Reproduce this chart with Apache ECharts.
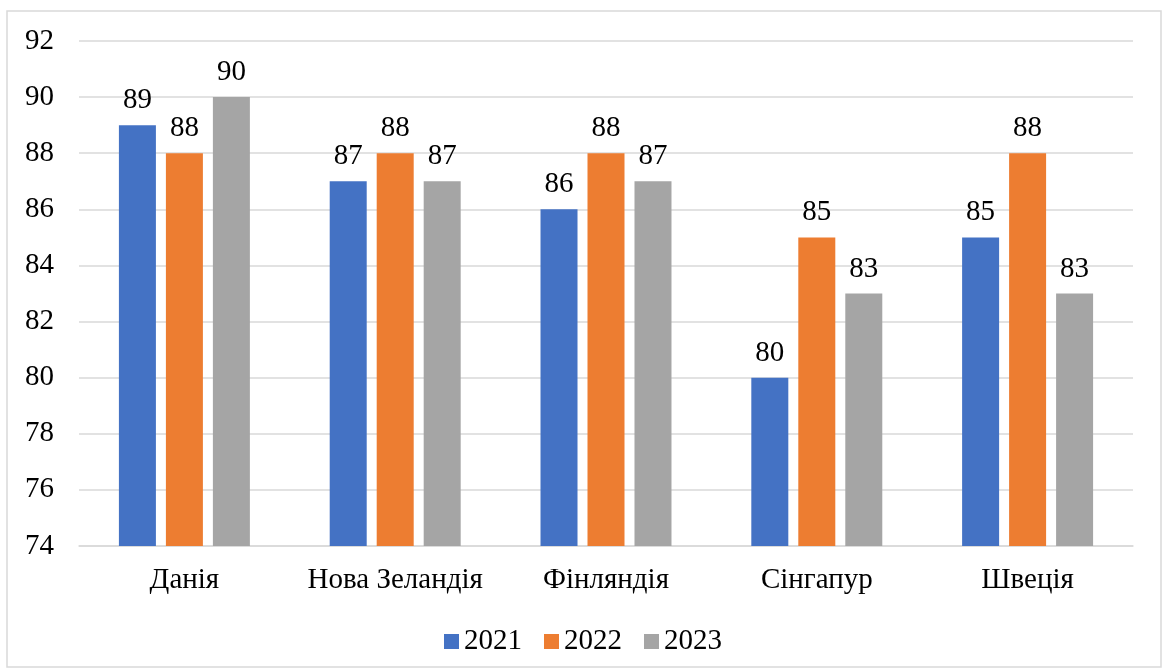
<!DOCTYPE html>
<html><head><meta charset="utf-8">
<script src="https://cdn.jsdelivr.net/npm/echarts@6/dist/echarts.min.js"></script>
<style>html,body{margin:0;padding:0;background:#fff}#c{width:1166px;height:670px}</style>
</head><body><div id="c"></div>
<script>
const categories = ['Данія', 'Нова Зеландія', 'Фінляндія', 'Сінгапур', 'Швеція'];
const seriesNames = ['2021', '2022', '2023'];
const values2021 = [89, 87, 86, 80, 85];
const values2022 = [88, 88, 88, 85, 88];
const values2023 = [90, 87, 87, 83, 83];
const colors = ['#4472C4', '#ED7D31', '#A5A5A5'];
const FONT = '"Liberation Serif", "Times New Roman", serif';

const chart = echarts.init(document.getElementById('c'), null, {renderer: 'canvas'});
const allValues = [values2021, values2022, values2023];
chart.setOption({
  animation: false,
  textStyle: {fontFamily: FONT},
  graphic: [{
    type: 'rect', shape: {x: 7, y: 11, width: 1154, height: 656},
    style: {fill: 'none', stroke: '#d9d9d9', lineWidth: 1.5}, silent: true
  }],
  grid: {left: 79, right: 33, top: 41, bottom: 124},
  legend: {
    top: 622, left: 'center', itemWidth: 15, itemHeight: 15, itemGap: 22,
    icon: 'rect',
    textStyle: {fontFamily: FONT, fontSize: 29, color: '#000'},
    data: seriesNames
  },
  xAxis: {
    type: 'category', data: categories,
    axisLine: {show: true, lineStyle: {color: '#d9d9d9', width: 1.5}},
    axisTick: {show: false},
    axisLabel: {fontFamily: FONT, fontSize: 29, color: '#000', margin: 20, interval: 0, hideOverlap: false}
  },
  yAxis: {
    type: 'value', min: 74, max: 92, interval: 2,
    axisLine: {show: false}, axisTick: {show: false},
    splitLine: {lineStyle: {color: '#d9d9d9', width: 1.5}},
    axisLabel: {fontFamily: FONT, fontSize: 29, color: '#000', margin: 25}
  },
  series: seriesNames.map((n, i) => ({
    name: n, type: 'bar', data: allValues[i],
    barWidth: 37, barGap: '27%',
    itemStyle: {color: colors[i]},
    label: {show: true, position: 'top', distance: 10, fontFamily: FONT, fontSize: 29, color: '#000'}
  }))
});
</script></body></html>
